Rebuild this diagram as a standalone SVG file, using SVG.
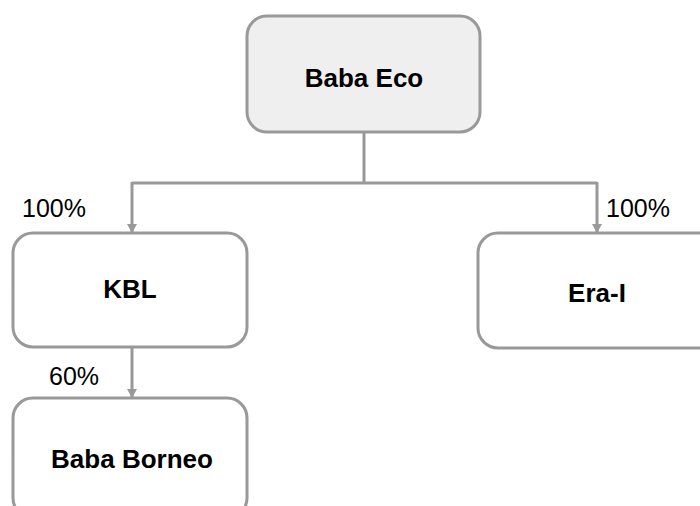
<svg xmlns="http://www.w3.org/2000/svg" width="700" height="506" viewBox="0 0 700 506">
  <style>
    .box { stroke: #999999; stroke-width: 3; fill: #ffffff; }
    .root { fill: #efefef; }
    .name { font-family: "Liberation Sans", Arial, sans-serif; font-size: 26px; font-weight: bold; fill: #000; text-anchor: middle; }
    .pct { font-family: "Liberation Sans", Arial, sans-serif; font-size: 25px; fill: #000; }
    .link { stroke: #999999; stroke-width: 3; fill: none; }
  </style>
  <defs>
    <marker id="arrow" markerWidth="10" markerHeight="10" refX="5" refY="9" orient="0" markerUnits="userSpaceOnUse">
      <path d="M0,1 L10,1 L5,10 Z" fill="#999999"/>
    </marker>
  </defs>

  <g id="connectors">
    <path class="link" d="M364,132 V183 M132,183 H597"/>
    <path class="link" d="M132,182 V232" marker-end="url(#arrow)"/>
    <path class="link" d="M597,182 V232" marker-end="url(#arrow)"/>
    <path class="link" d="M132,347 V397" marker-end="url(#arrow)"/>
    <text class="pct" x="22" y="217">100%</text>
    <text class="pct" x="606" y="217">100%</text>
    <text class="pct" x="49" y="385">60%</text>
  </g>

  <g id="baba-eco">
    <rect class="box root" x="247" y="16" width="233" height="116" rx="20"/>
    <text class="name" x="364" y="87">Baba Eco</text>
  </g>

  <g id="kbl">
    <rect class="box" x="13" y="233" width="234" height="114" rx="20"/>
    <text class="name" x="130" y="298">KBL</text>
  </g>

  <g id="era-i">
    <rect class="box" x="478" y="233" width="240" height="115" rx="20"/>
    <text class="name" x="597" y="302">Era-I</text>
  </g>

  <g id="baba-borneo">
    <rect class="box" x="13" y="398" width="234" height="120" rx="20"/>
    <text class="name" x="132" y="468">Baba Borneo</text>
  </g>
</svg>
